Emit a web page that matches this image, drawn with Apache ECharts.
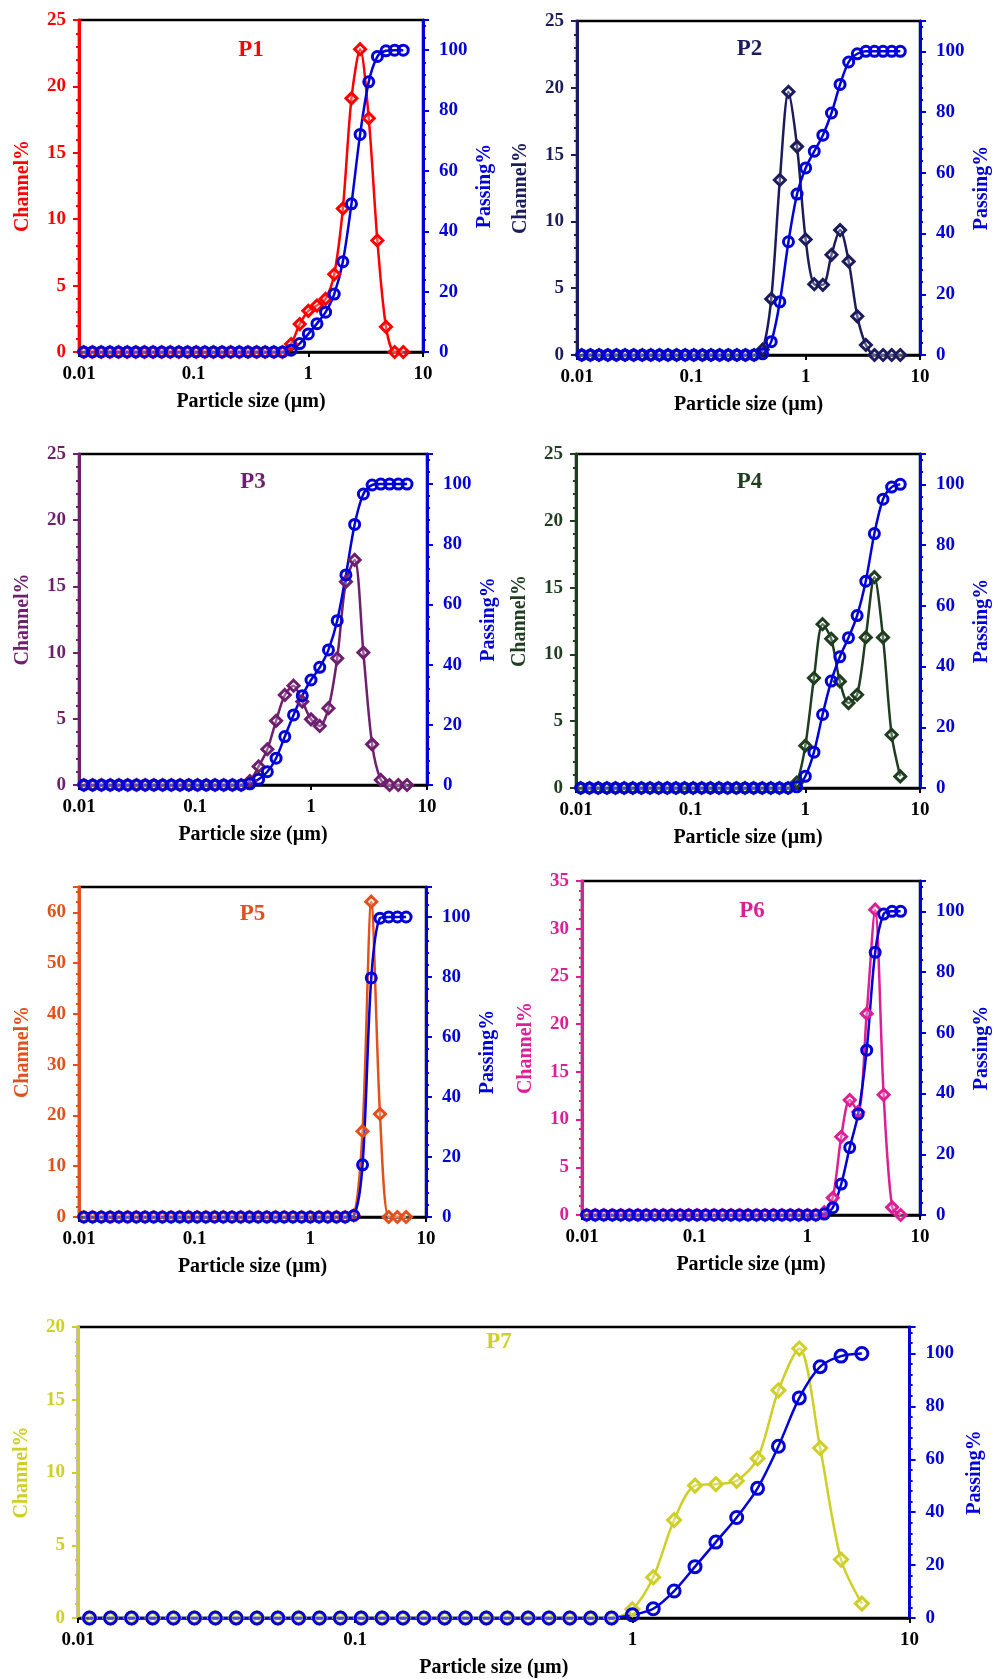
<!DOCTYPE html>
<html>
<head>
<meta charset="utf-8">
<title>Particle size distribution P1-P7</title>
<script src="https://cdn.jsdelivr.net/npm/echarts@6/dist/echarts.min.js"></script>
<style>
html, body { margin: 0; padding: 0; background: #fff; }
#chart { width: 993px; height: 1679px; }
</style>
</head>
<body>
<div id="chart"></div>
<script>
// particle size channels (µm), same for every sample
const sizes = [0.011, 0.0131, 0.0156, 0.0186, 0.0221, 0.0263, 0.0313, 0.0372, 0.0442, 0.0526,
  0.0625, 0.0743, 0.0884, 0.1051, 0.125, 0.1487, 0.1768, 0.2102, 0.25, 0.2973,
  0.3536, 0.4204, 0.5, 0.5946, 0.7071, 0.8409, 1, 1.189, 1.414, 1.682,
  2, 2.378, 2.828, 3.364, 4, 4.757, 5.657, 6.727];

// channel% and passing% per sample
const p1Channel = [0,0,0,0,0,0,0,0,0,0, 0,0,0,0,0,0,0,0,0,0, 0,0,0,0, 0.6,2.1,3.1,3.5,4.0,5.85,10.8,19.1,22.8,17.6,8.4,1.9,0,0];
const p1Passing = [0,0,0,0,0,0,0,0,0,0, 0,0,0,0,0,0,0,0,0,0, 0,0,0,0, 0.6,2.8,6.0,9.4,13.2,19.2,29.9,49.1,72.1,89.5,97.9,99.8,100,100];

const p2Channel = [0,0,0,0,0,0,0,0,0,0, 0,0,0,0,0,0,0,0,0,0, 0, 0.4,4.2,13.1,19.7,15.6,8.65,5.3,5.25,7.5,9.35,7.0,2.9,0.75,0,0,0,0];
const p2Passing = [0,0,0,0,0,0,0,0,0,0, 0,0,0,0,0,0,0,0,0,0, 0, 0.4,4.4,17.5,37.3,53.0,61.6,67.1,72.4,79.7,89.1,96.5,99.2,100,100,100,100,100];

const p3Channel = [0,0,0,0,0,0,0,0,0,0, 0,0,0,0,0,0,0,0,0, 0.3,1.4,2.7,4.85,6.8,7.5,6.3,4.96,4.46,5.8,9.57,15.36,17.0,10.0,3.07,0.38,0,0,0];
const p3Passing = [0,0,0,0,0,0,0,0,0,0, 0,0,0,0,0,0,0,0,0, 0.4,1.9,4.4,8.9,16.1,23.3,29.7,34.9,39.1,44.9,54.6,69.8,86.6,96.7,99.7,100,100,100,100];

const p4Channel = [0,0,0,0,0,0,0,0,0,0, 0,0,0,0,0,0,0,0,0,0, 0,0,0,0,0, 0.4,3.17,8.23,12.26,11.17,7.98,6.36,6.98,11.27,15.78,11.27,3.99,0.87];
const p4Passing = [0,0,0,0,0,0,0,0,0,0, 0,0,0,0,0,0,0,0,0,0, 0,0,0,0,0, 0.4,3.85,11.8,24.2,35.2,43.2,49.5,56.8,68.1,83.8,95.1,99.1,100];

const p5Channel = [0,0,0,0,0,0,0,0,0,0, 0,0,0,0,0,0,0,0,0,0, 0,0,0,0,0,0,0,0,0,0, 0, 0.3,16.9,62.1,20.3,0,0,0];
const p5Passing = [0,0,0,0,0,0,0,0,0,0, 0,0,0,0,0,0,0,0,0,0, 0,0,0,0,0,0,0,0,0,0, 0, 0.5,17.4,79.7,99.6,100,100,100];

const p6Channel = [0,0,0,0,0,0,0,0,0,0, 0,0,0,0,0,0,0,0,0,0, 0,0,0,0,0,0,0,0, 0.3,1.8,8.2,12.05,10.8,21.1,32.0,12.6,0.8,0];
const p6Passing = [0,0,0,0,0,0,0,0,0,0, 0,0,0,0,0,0,0,0,0,0, 0,0,0,0,0,0,0,0, 0.3,2.4,10.2,22.2,33.3,54.3,86.5,99.1,100,100];

const p7Channel = [0,0,0,0,0,0,0,0,0,0, 0,0,0,0,0,0,0,0,0,0, 0,0,0,0,0,0, 0.6,2.8,6.73,9.1,9.2,9.43,10.97,15.65,18.52,11.68,4.02,0.99];
const p7Passing = [0,0,0,0,0,0,0,0,0,0, 0,0,0,0,0,0,0,0,0,0, 0,0,0,0,0,0, 1.2,3.5,10.2,19.4,28.7,38.0,49.0,64.9,83.2,95.0,99.0,100];

const sampleNames = ['P1', 'P2', 'P3', 'P4', 'P5', 'P6', 'P7'];
const channelMax = [25, 25, 25, 25, 65, 35, 20];
const channelStep = [5, 5, 5, 5, 10, 5, 5];
const passingMax = 110;
const passingStep = 20;

const FONT = 'Liberation Serif';
const BLUE = '#0000d8';

// layout + colours for each panel: box = [left, top, width, height]
const panels = [
  { channel: p1Channel, passing: p1Passing, color: '#ff0000', box: [79, 20, 344, 332], titleTop: 39, mark: 10 },
  { channel: p2Channel, passing: p2Passing, color: '#1c1c5c', box: [577, 21, 345, 334], titleTop: 38, mark: 10 },
  { channel: p3Channel, passing: p3Passing, color: '#6e1f6e', box: [79, 454, 348, 331], titleTop: 471, mark: 10 },
  { channel: p4Channel, passing: p4Passing, color: '#1f3d1f', box: [576, 454, 347, 334], titleTop: 471, mark: 10 },
  { channel: p5Channel, passing: p5Passing, color: '#e2501c', box: [79, 887, 347, 330], titleTop: 903, mark: 10 },
  { channel: p6Channel, passing: p6Passing, color: '#dc1f96', box: [582, 881, 340, 334], titleTop: 900, mark: 10 },
  { channel: p7Channel, passing: p7Passing, color: '#cfcf2a', box: [78, 1327, 842, 302], titleTop: 1331, mark: 12 }
];

function textStyle(color, size) {
  return { color: color, fontFamily: FONT, fontWeight: 'bold', fontSize: size };
}

const grid = [], xAxis = [], yAxis = [], series = [], title = [];

panels.forEach(function (p, i) {
  const b = p.box;
  grid.push({
    left: b[0], top: b[1], width: b[2], height: b[3],
    show: true, borderColor: '#000', borderWidth: 2.5, backgroundColor: 'transparent'
  });

  xAxis.push({
    gridIndex: i, type: 'log', logBase: 10, min: 0.01, max: 10,
    name: 'Particle size (µm)', nameLocation: 'middle', nameGap: 40,
    nameTextStyle: textStyle('#000', 20),
    axisLine: { lineStyle: { color: '#000', width: 2.5 } },
    axisTick: { show: true, length: 5, lineStyle: { color: '#000', width: 2 } },
    axisLabel: Object.assign({ margin: 13 }, textStyle('#000', 19)),
    splitLine: { show: false }
  });

  yAxis.push({
    gridIndex: i, type: 'value', position: 'left',
    min: 0, max: channelMax[i], interval: channelStep[i],
    name: 'Channel%', nameLocation: 'middle', nameGap: 46, nameRotate: 90,
    nameTextStyle: textStyle(p.color, 20),
    axisLine: { show: true, lineStyle: { color: p.color, width: 3 } },
    axisTick: { show: true, length: 6, lineStyle: { color: p.color, width: 2 } },
    minorTick: { show: true, splitNumber: 5, length: 3, lineStyle: { color: p.color, width: 2 } },
    axisLabel: Object.assign({ margin: 13, showMaxLabel: channelMax[i] % channelStep[i] === 0 }, textStyle(p.color, 19)),
    splitLine: { show: false }
  });

  yAxis.push({
    gridIndex: i, type: 'value', position: 'right',
    min: 0, max: passingMax, interval: passingStep,
    name: 'Passing%', nameLocation: 'middle', nameGap: 52, nameRotate: 90,
    nameTextStyle: textStyle(BLUE, 20),
    axisLine: { show: true, lineStyle: { color: BLUE, width: 3 } },
    axisTick: { show: true, length: 6, lineStyle: { color: BLUE, width: 2 } },
    minorTick: { show: true, splitNumber: 5, length: 3, lineStyle: { color: BLUE, width: 2 } },
    axisLabel: Object.assign({ margin: 16, showMaxLabel: false }, textStyle(BLUE, 19)),
    splitLine: { show: false }
  });

  series.push({
    name: sampleNames[i] + ' channel', type: 'line',
    xAxisIndex: i, yAxisIndex: 2 * i,
    data: sizes.map(function (s, k) { return [s, p.channel[k]]; }),
    smooth: 0.3, symbol: 'diamond', symbolSize: p.mark + 1,
    lineStyle: { color: p.color, width: 2.5 },
    itemStyle: { color: 'rgba(255,255,255,0.3)', borderColor: p.color, borderWidth: 3 }
  });

  series.push({
    name: sampleNames[i] + ' passing', type: 'line',
    xAxisIndex: i, yAxisIndex: 2 * i + 1,
    data: sizes.map(function (s, k) { return [s, p.passing[k]]; }),
    smooth: 0.3, symbol: 'circle', symbolSize: p.mark,
    lineStyle: { color: BLUE, width: 2.5 },
    itemStyle: { color: 'rgba(255,255,255,0)', borderColor: BLUE, borderWidth: 3 }
  });

  title.push({
    text: sampleNames[i], left: b[0] + b[2] / 2, top: p.titleTop,
    textAlign: 'center', padding: 0,
    textStyle: textStyle(p.color, 23)
  });
});

const chart = echarts.init(document.getElementById('chart'), null, { renderer: 'canvas' });
chart.setOption({
  animation: false,
  backgroundColor: '#fff',
  title: title,
  grid: grid,
  xAxis: xAxis,
  yAxis: yAxis,
  series: series
});
</script>
</body>
</html>
